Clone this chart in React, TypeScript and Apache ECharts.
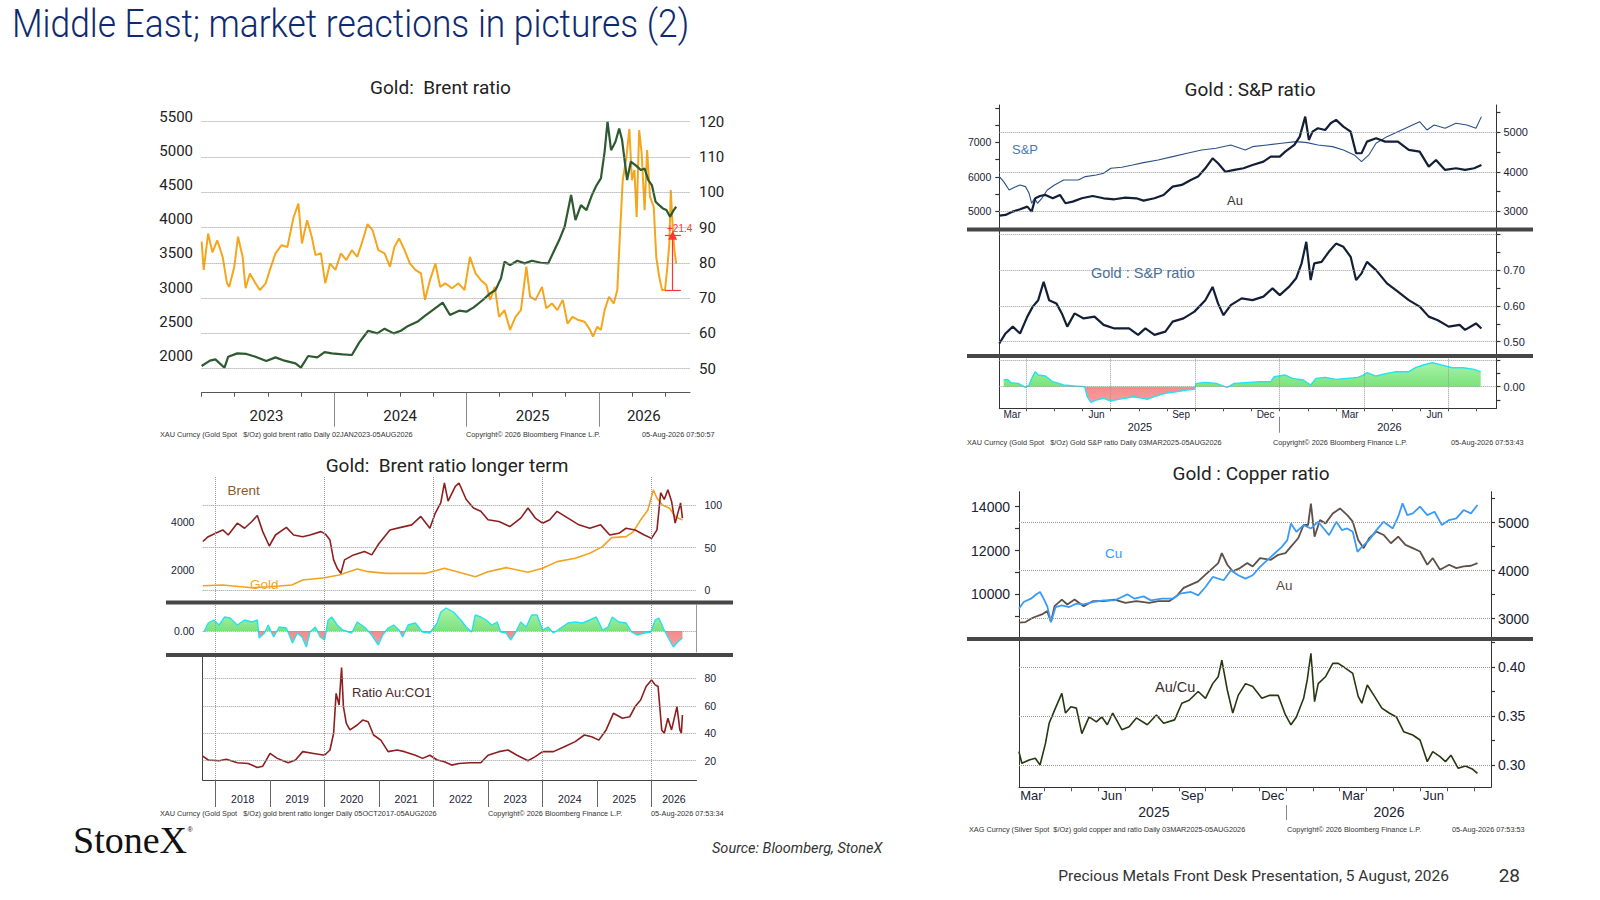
import React, { useEffect, useRef } from "react";
import * as echarts from "echarts";

const SLIDE_FONT = "Roboto, 'Noto Sans', Arial, sans-serif";
const BBG_FONT = "'Liberation Sans', Arial, sans-serif";

/* ================= Panel 1 : Gold : Brent ratio (x = decimal year) ================= */
const p1GoldT = [2023.000, 2023.063, 2023.104, 2023.173, 2023.201, 2023.269, 2023.338, 2023.407, 2023.489, 2023.558, 2023.626, 2023.709, 2023.750, 2023.805, 2023.874, 2023.929, 2023.984, 2024.066, 2024.135, 2024.190, 2024.258, 2024.327, 2024.382, 2024.451, 2024.505, 2024.560, 2024.629, 2024.684, 2024.753, 2024.821, 2024.876, 2024.945, 2025.000, 2025.055, 2025.124, 2025.179, 2025.220, 2025.261, 2025.288, 2025.330, 2025.385, 2025.440, 2025.495, 2025.563, 2025.618, 2025.659, 2025.701, 2025.742, 2025.791, 2025.824, 2025.865, 2025.907, 2025.948, 2025.984, 2026.016, 2026.044, 2026.066, 2026.093, 2026.126, 2026.154, 2026.176, 2026.195, 2026.214, 2026.242, 2026.277, 2026.319, 2026.346, 2026.374, 2026.401, 2026.429, 2026.456, 2026.484, 2026.511, 2026.538, 2026.566, 2026.585];
const p1GoldV = [1854, 1932, 1951, 1829, 1990, 2039, 2030, 1990, 1927, 1980, 1932, 1893, 1830, 2000, 1980, 2058, 2039, 2024, 2015, 2195, 2370, 2331, 2400, 2331, 2370, 2440, 2500, 2585, 2682, 2780, 2600, 2663, 2648, 2711, 2819, 2916, 2965, 3135, 3379, 3330, 3394, 3355, 3394, 3364, 3355, 3525, 3696, 3891, 4354, 3988, 4207, 4134, 4353, 4500, 4597, 4987, 5426, 5011, 5133, 5328, 5158, 4865, 4573, 4841, 4792, 4719, 4743, 4573, 4500, 4256, 4207, 4159, 4134, 4037, 4134, 4183];
const p1BrentT = [2023.000, 2023.016, 2023.049, 2023.082, 2023.118, 2023.159, 2023.192, 2023.209, 2023.247, 2023.275, 2023.310, 2023.332, 2023.365, 2023.407, 2023.440, 2023.484, 2023.516, 2023.558, 2023.604, 2023.648, 2023.695, 2023.731, 2023.758, 2023.797, 2023.832, 2023.860, 2023.901, 2023.934, 2023.970, 2024.011, 2024.052, 2024.093, 2024.135, 2024.176, 2024.217, 2024.253, 2024.291, 2024.335, 2024.382, 2024.423, 2024.456, 2024.492, 2024.533, 2024.574, 2024.615, 2024.657, 2024.687, 2024.725, 2024.766, 2024.802, 2024.841, 2024.890, 2024.940, 2024.986, 2025.027, 2025.069, 2025.110, 2025.151, 2025.179, 2025.214, 2025.247, 2025.288, 2025.330, 2025.371, 2025.412, 2025.453, 2025.481, 2025.522, 2025.571, 2025.604, 2025.646, 2025.687, 2025.728, 2025.764, 2025.802, 2025.846, 2025.893, 2025.934, 2025.956, 2025.989, 2026.016, 2026.044, 2026.077, 2026.113, 2026.140, 2026.159, 2026.181, 2026.209, 2026.231, 2026.250, 2026.269, 2026.286, 2026.305, 2026.324, 2026.346, 2026.365, 2026.387, 2026.415, 2026.434, 2026.456, 2026.478, 2026.500, 2026.516, 2026.533, 2026.544, 2026.558, 2026.571, 2026.585];
const p1BrentV = [86.0, 78.0, 88.3, 83.0, 86.4, 81.7, 74.2, 73.2, 78.9, 87.4, 81.7, 72.8, 77.0, 74.2, 72.3, 74.2, 78.0, 82.7, 85.0, 84.5, 93.0, 96.8, 85.5, 92.1, 87.4, 82.2, 82.7, 74.2, 79.8, 78.0, 82.7, 80.8, 83.6, 81.7, 86.4, 91.0, 89.3, 83.6, 82.7, 78.9, 84.5, 86.9, 83.6, 79.8, 78.0, 77.0, 69.5, 75.1, 79.8, 73.2, 74.2, 72.8, 74.2, 72.3, 81.7, 77.0, 75.1, 73.7, 69.5, 73.2, 64.7, 66.6, 61.0, 64.7, 66.6, 78.9, 70.4, 69.5, 73.2, 67.1, 68.5, 66.6, 69.5, 62.8, 64.7, 63.8, 63.3, 61.0, 59.1, 61.9, 61.0, 66.6, 70.4, 68.5, 72.3, 87.4, 103.4, 110.0, 118.0, 103.4, 106.3, 93.0, 117.6, 111.0, 94.9, 112.0, 98.7, 95.9, 81.7, 76.1, 72.3, 72.3, 78.0, 85.5, 100.6, 90.2, 83.6, 79.8];
const p1LeftLabels = [2000, 2500, 3000, 3500, 4000, 4500, 5000, 5500];
const p1RightLabels = [50, 60, 70, 80, 90, 100, 110, 120];
const p1QuarterTicks = [2023, 2023.25, 2023.5, 2023.75, 2024, 2024.25, 2024.5, 2024.75, 2025, 2025.25, 2025.5, 2025.75, 2026, 2026.25, 2026.5];
const p1YearBounds = [2024, 2025, 2026];
const p1YearPos = [2023.49, 2024.5, 2025.5, 2026.34];
const p1YearNames = ["2023", "2024", "2025", "2026"];
const p1Move = { at: 2026.558, from: 72.3, to: 87.8, capL: 2026.5, capR: 2026.62, text: "+21.4" };

/* ================= Panel 2 : longer term (x = decimal year) ================= */
const p2BrentT = [2017.767, 2017.867, 2018.000, 2018.133, 2018.233, 2018.400, 2018.533, 2018.667, 2018.767, 2018.867, 2018.987, 2019.100, 2019.300, 2019.433, 2019.600, 2019.733, 2019.933, 2020.020, 2020.100, 2020.167, 2020.233, 2020.300, 2020.367, 2020.533, 2020.733, 2020.867, 2021.000, 2021.200, 2021.400, 2021.600, 2021.767, 2021.933, 2022.033, 2022.133, 2022.200, 2022.267, 2022.400, 2022.467, 2022.600, 2022.733, 2022.867, 2023.000, 2023.200, 2023.400, 2023.600, 2023.733, 2023.867, 2024.000, 2024.133, 2024.267, 2024.467, 2024.667, 2024.867, 2025.067, 2025.233, 2025.400, 2025.533, 2025.700, 2025.867, 2026.000, 2026.100, 2026.167, 2026.233, 2026.300, 2026.367, 2026.433, 2026.500, 2026.533, 2026.567];
const p2BrentV = [57.3, 63, 67, 71, 65, 79, 73, 81, 88, 69, 52, 65, 74, 65, 63, 65, 69, 66, 59, 35.6, 25.7, 19.8, 35.6, 41.5, 45.5, 41.5, 55, 71, 74, 77, 87, 73, 91, 103, 126.5, 105, 122.5, 126.5, 107, 97, 93, 83, 81, 75, 85, 97, 85, 79, 83, 93, 85, 77, 73, 77, 65, 67, 73, 71, 65, 61, 71, 115, 107, 118.6, 105, 79, 95, 103, 85];
const p2GoldT = [2017.767, 2018.133, 2018.667, 2019.000, 2019.400, 2019.600, 2020.000, 2020.267, 2020.600, 2020.800, 2021.133, 2021.467, 2021.867, 2022.200, 2022.533, 2022.767, 2023.000, 2023.333, 2023.733, 2024.000, 2024.267, 2024.600, 2024.867, 2025.100, 2025.267, 2025.533, 2025.667, 2025.800, 2025.933, 2026.033, 2026.100, 2026.200, 2026.333, 2026.433, 2026.567];
const p2GoldV = [1342, 1370, 1258, 1300, 1370, 1580, 1678, 1790, 2042, 1930, 1860, 1860, 1860, 2070, 1860, 1720, 1930, 2098, 1902, 2070, 2350, 2490, 2700, 2980, 3357, 3400, 3609, 4100, 4518, 5358, 5008, 4728, 4588, 4238, 4098];
const p2OscT = [2017.787, 2017.867, 2017.967, 2018.067, 2018.167, 2018.267, 2018.400, 2018.533, 2018.667, 2018.767, 2018.800, 2018.900, 2018.967, 2019.067, 2019.167, 2019.300, 2019.413, 2019.500, 2019.587, 2019.667, 2019.733, 2019.833, 2019.920, 2020.000, 2020.067, 2020.133, 2020.233, 2020.333, 2020.500, 2020.600, 2020.733, 2020.867, 2020.987, 2021.067, 2021.167, 2021.267, 2021.367, 2021.433, 2021.533, 2021.667, 2021.800, 2021.933, 2022.067, 2022.133, 2022.233, 2022.367, 2022.500, 2022.600, 2022.700, 2022.767, 2022.867, 2022.967, 2023.067, 2023.167, 2023.233, 2023.333, 2023.413, 2023.500, 2023.600, 2023.700, 2023.800, 2023.900, 2024.000, 2024.100, 2024.200, 2024.333, 2024.467, 2024.600, 2024.733, 2024.867, 2024.987, 2025.100, 2025.200, 2025.280, 2025.400, 2025.533, 2025.633, 2025.733, 2025.867, 2025.987, 2026.067, 2026.133, 2026.233, 2026.300, 2026.400, 2026.480, 2026.567];
const p2OscV = [-0.01, 0.08, 0.11, 0.06, 0.14, 0.13, 0.06, 0.11, 0.09, 0.11, -0.07, -0.02, 0.06, -0.06, 0.04, 0.03, -0.12, -0.02, -0.06, -0.16, -0.01, 0.04, -0.06, -0.09, 0.11, 0.14, 0.06, 0.01, -0.02, 0.09, 0.04, -0.04, -0.14, -0.04, 0.03, 0.06, 0.01, -0.06, 0.06, 0.08, -0.01, -0.02, 0.08, 0.19, 0.23, 0.19, 0.11, 0.04, -0.01, 0.16, 0.14, 0.11, 0.06, 0.09, -0.01, -0.02, -0.09, -0.02, 0.09, 0.04, 0.16, 0.16, 0.01, 0.04, -0.02, 0.03, 0.08, 0.09, 0.08, 0.11, 0.14, 0.01, 0.04, 0.14, 0.09, 0.08, -0.01, -0.04, -0.02, -0.01, 0.11, 0.13, 0.01, -0.06, -0.16, -0.11, -0.07];
const p2RatioT = [2017.767, 2017.867, 2018.067, 2018.200, 2018.400, 2018.600, 2018.767, 2018.867, 2019.000, 2019.133, 2019.333, 2019.467, 2019.600, 2019.800, 2020.000, 2020.100, 2020.167, 2020.213, 2020.267, 2020.313, 2020.347, 2020.400, 2020.467, 2020.600, 2020.700, 2020.800, 2020.900, 2021.033, 2021.167, 2021.333, 2021.467, 2021.667, 2021.800, 2021.933, 2022.067, 2022.200, 2022.333, 2022.467, 2022.667, 2022.867, 2023.000, 2023.200, 2023.367, 2023.533, 2023.733, 2023.867, 2024.000, 2024.200, 2024.400, 2024.600, 2024.767, 2024.900, 2025.033, 2025.167, 2025.300, 2025.467, 2025.600, 2025.700, 2025.800, 2025.900, 2026.000, 2026.067, 2026.120, 2026.187, 2026.233, 2026.300, 2026.367, 2026.467, 2026.520, 2026.547, 2026.567];
const p2RatioV = [23.4, 20.5, 20, 21, 18.5, 18, 15, 16, 25.3, 21.7, 18.5, 20.5, 26.6, 25.3, 24, 27.8, 40, 69, 60.6, 87.8, 59.4, 47.2, 42.4, 46, 49.6, 48.4, 38.7, 35, 26.6, 27.8, 26.6, 24, 21.7, 24, 20.5, 19.3, 16.8, 18, 18.5, 18.5, 24, 26.6, 27.8, 24, 20, 23, 26.6, 26.6, 30.2, 33.9, 38.7, 37.5, 35, 42.4, 54.5, 50.9, 52, 59.4, 64.2, 74, 78.8, 75.2, 74, 42.4, 40, 50.9, 42.4, 59.4, 42.4, 40, 53.3];
const p2YearTicks = [2018, 2019, 2020, 2021, 2022, 2023, 2024, 2025, 2026];
const p2YearPos = [2018.5, 2019.5, 2020.5, 2021.5, 2022.5, 2023.5, 2024.5, 2025.5, 2026.41];
const p2YearNames = ["2018", "2019", "2020", "2021", "2022", "2023", "2024", "2025", "2026"];
const p2Verticals = [2018, 2020, 2022, 2024, 2026];

/* ================= Panel 3 : Gold : S&P (x = months since Jan 2025) ================= */
const p3SpxT = [2.045, 2.200, 2.394, 2.587, 2.781, 2.974, 3.103, 3.194, 3.297, 3.400, 3.555, 3.748, 4.006, 4.329, 4.587, 4.845, 5.103, 5.490, 5.748, 6.006, 6.394, 6.781, 7.168, 7.684, 8.200, 8.716, 9.232, 9.748, 10.265, 10.781, 11.039, 11.555, 12.071, 12.587, 12.974, 13.361, 13.877, 14.265, 14.652, 14.910, 15.168, 15.426, 15.813, 16.200, 16.587, 16.974, 17.232, 17.490, 17.877, 18.265, 18.652, 18.974, 19.168];
const p3SpxV = [6005, 5860, 5619, 5696, 5764, 5715, 5522, 5232, 5377, 5232, 5377, 5619, 5764, 5908, 5908, 5908, 6005, 6053, 6102, 6247, 6276, 6343, 6411, 6488, 6585, 6681, 6778, 6826, 6923, 6778, 6874, 6923, 6971, 7019, 6990, 6923, 6874, 6778, 6633, 6440, 6633, 6971, 7164, 7309, 7454, 7599, 7357, 7502, 7406, 7551, 7502, 7406, 7744];
const p3AuT = [2.045, 2.265, 2.523, 2.781, 3.039, 3.194, 3.323, 3.490, 3.684, 3.942, 4.200, 4.394, 4.652, 4.974, 5.361, 5.748, 6.135, 6.523, 6.910, 7.168, 7.555, 7.877, 8.200, 8.523, 8.845, 9.103, 9.361, 9.619, 9.813, 10.071, 10.394, 10.716, 11.039, 11.426, 11.684, 12.006, 12.200, 12.523, 12.716, 12.910, 13.039, 13.168, 13.361, 13.619, 13.813, 14.006, 14.265, 14.523, 14.716, 14.910, 15.103, 15.426, 15.748, 16.200, 16.587, 16.974, 17.297, 17.555, 17.877, 18.265, 18.587, 18.910, 19.168];
const p3AuV = [2890, 2907, 2992, 3051, 3118, 2992, 3329, 3388, 3414, 3329, 3414, 3203, 3245, 3329, 3388, 3329, 3304, 3346, 3329, 3270, 3329, 3414, 3625, 3667, 3793, 3878, 4089, 4342, 4215, 4000, 4047, 4089, 4173, 4258, 4384, 4384, 4511, 4680, 4891, 5397, 4806, 5017, 5102, 5059, 5228, 5313, 5144, 5017, 4469, 4469, 4764, 4848, 4764, 4764, 4553, 4511, 4131, 4300, 4047, 4089, 4047, 4089, 4173];
const p3RatioT = [2.045, 2.265, 2.523, 2.781, 3.039, 3.232, 3.426, 3.619, 3.813, 4.071, 4.265, 4.458, 4.716, 5.039, 5.426, 5.748, 6.135, 6.652, 6.974, 7.232, 7.555, 7.942, 8.200, 8.587, 8.974, 9.361, 9.619, 9.813, 10.006, 10.265, 10.652, 11.039, 11.426, 11.748, 12.006, 12.329, 12.587, 12.781, 12.948, 13.103, 13.232, 13.490, 13.748, 14.006, 14.265, 14.523, 14.716, 14.910, 15.103, 15.426, 15.813, 16.200, 16.587, 16.974, 17.297, 17.619, 18.006, 18.394, 18.587, 18.974, 19.168];
const p3RatioV = [0.495, 0.523, 0.542, 0.523, 0.570, 0.598, 0.616, 0.667, 0.616, 0.607, 0.579, 0.542, 0.579, 0.565, 0.570, 0.547, 0.537, 0.537, 0.519, 0.537, 0.519, 0.528, 0.556, 0.565, 0.584, 0.616, 0.653, 0.607, 0.574, 0.602, 0.621, 0.616, 0.626, 0.649, 0.630, 0.653, 0.677, 0.719, 0.779, 0.672, 0.719, 0.723, 0.751, 0.774, 0.765, 0.737, 0.672, 0.691, 0.723, 0.700, 0.663, 0.640, 0.616, 0.598, 0.570, 0.560, 0.542, 0.547, 0.533, 0.551, 0.537];
const p3OscT = [2.200, 2.329, 2.458, 2.716, 2.974, 3.103, 3.194, 3.323, 3.426, 3.684, 3.942, 4.329, 4.716, 5.077, 5.168, 5.297, 5.490, 5.748, 6.006, 6.265, 6.523, 6.781, 7.039, 7.297, 7.555, 7.942, 8.329, 8.716, 8.974, 9.039, 9.361, 9.748, 10.135, 10.394, 10.910, 11.297, 11.684, 11.813, 12.200, 12.458, 12.845, 13.103, 13.297, 13.619, 14.006, 14.394, 14.781, 14.974, 15.103, 15.426, 15.813, 16.135, 16.587, 16.845, 17.103, 17.426, 17.748, 18.135, 18.523, 18.910, 19.142];
const p3OscV = [0.05, 0.055, 0.03, 0.025, -0.005, 0.0125, 0.0625, 0.1125, 0.0875, 0.08, 0.0375, 0.0125, 0.005, 0, -0.075, -0.1175, -0.1, -0.0875, -0.1075, -0.095, -0.0875, -0.075, -0.0825, -0.095, -0.075, -0.05, -0.0375, -0.025, -0.02, 0.025, 0.0325, 0.025, -0.005, 0.025, 0.0325, 0.0375, 0.0375, 0.075, 0.0875, 0.0625, 0.05, 0.0125, 0.0625, 0.07, 0.055, 0.0625, 0.07, 0.0875, 0.105, 0.08, 0.1, 0.1125, 0.1125, 0.145, 0.1625, 0.18, 0.1625, 0.1425, 0.1425, 0.13, 0.1125];
const p3SpxLabels = [5000, 6000, 7000];
const p3SpxTicks = [4500, 5000, 5500, 6000, 6500, 7000, 7500, 8000];
const p3AuLabels = [3000, 4000, 5000];
const p3AuTicks = [3000, 3500, 4000, 4500, 5000, 5500];
const p3RatioLabels = [0.5, 0.6, 0.7];
const p3RatioTicks = [0.5, 0.55, 0.6, 0.65, 0.7, 0.75, 0.8];
const p3RatioGrid = [0.5, 0.6, 0.7, 0.8];
const p3OscTicks = [-0.1, 0, 0.1, 0.2];
const p3QuarterLines = [3, 6, 9, 12, 15, 18];

/* ================= Panel 4 : Gold : Copper (x = months since Jan 2025) ================= */
const p4CuT = [2.037, 2.214, 2.485, 2.688, 2.824, 2.959, 3.095, 3.231, 3.407, 3.637, 3.908, 4.180, 4.451, 4.790, 5.197, 5.603, 5.875, 6.078, 6.349, 6.688, 6.959, 7.366, 7.773, 8.044, 8.451, 8.722, 8.993, 9.264, 9.671, 9.942, 10.214, 10.485, 10.756, 11.027, 11.298, 11.569, 11.841, 12.044, 12.180, 12.383, 12.654, 12.925, 13.197, 13.400, 13.603, 13.875, 14.078, 14.281, 14.485, 14.661, 14.824, 15.095, 15.366, 15.637, 15.976, 16.180, 16.342, 16.519, 16.722, 16.993, 17.264, 17.536, 17.807, 18.078, 18.349, 18.620, 18.892, 19.136];
const p4CuV = [9343, 9648, 9800, 9999, 10106, 9800, 9449, 8732, 9419, 9495, 9419, 9572, 9541, 9648, 9724, 9724, 9877, 9999, 9800, 9907, 9724, 9800, 9800, 10030, 10106, 9953, 10335, 10793, 10641, 11099, 10870, 10717, 10870, 11251, 11557, 11862, 12167, 12473, 13236, 12855, 13160, 13007, 13313, 13007, 12702, 13313, 12931, 13007, 12855, 11939, 12167, 12473, 12931, 13313, 13007, 13542, 14153, 13618, 13694, 14000, 13618, 13771, 13160, 13389, 13465, 13847, 13694, 14076];
const p4AuT = [2.037, 2.281, 2.553, 2.892, 3.095, 3.231, 3.366, 3.637, 3.841, 4.112, 4.451, 4.790, 5.197, 5.603, 6.010, 6.417, 6.892, 7.231, 7.637, 7.908, 8.180, 8.451, 8.722, 8.993, 9.264, 9.468, 9.603, 9.807, 10.010, 10.281, 10.553, 10.756, 11.027, 11.434, 11.708, 11.976, 12.180, 12.451, 12.654, 12.817, 12.925, 13.061, 13.264, 13.468, 13.739, 14.010, 14.281, 14.485, 14.688, 14.892, 15.095, 15.366, 15.637, 15.908, 16.180, 16.451, 16.722, 16.993, 17.264, 17.468, 17.739, 18.078, 18.349, 18.620, 18.892, 19.136];
const p4AuV = [2916, 2930, 3020, 3089, 3158, 2930, 3261, 3399, 3296, 3399, 3261, 3365, 3365, 3399, 3330, 3365, 3330, 3365, 3365, 3468, 3641, 3710, 3779, 3917, 4055, 4158, 4365, 4124, 3986, 4055, 4158, 4089, 4262, 4227, 4331, 4365, 4503, 4676, 4952, 4952, 5400, 4710, 5055, 4986, 5193, 5297, 5159, 5021, 4641, 4469, 4676, 4814, 4745, 4572, 4710, 4538, 4469, 4400, 4124, 4262, 4020, 4124, 4055, 4089, 4103, 4158];
const p4RatioT = [2.037, 2.146, 2.417, 2.647, 2.824, 3.027, 3.163, 3.366, 3.637, 3.773, 3.976, 4.180, 4.383, 4.654, 4.925, 5.129, 5.332, 5.536, 5.875, 6.146, 6.417, 6.824, 7.163, 7.434, 7.841, 8.112, 8.383, 8.722, 8.993, 9.264, 9.468, 9.603, 9.807, 10.010, 10.214, 10.485, 10.756, 11.095, 11.366, 11.705, 11.976, 12.180, 12.383, 12.654, 12.790, 12.925, 13.061, 13.197, 13.468, 13.739, 13.942, 14.146, 14.485, 14.688, 14.824, 15.027, 15.298, 15.569, 15.841, 16.112, 16.383, 16.722, 16.993, 17.264, 17.468, 17.739, 17.942, 18.146, 18.417, 18.688, 18.959, 19.136];
const p4RatioV = [0.3136, 0.3017, 0.3051, 0.3068, 0.300, 0.322, 0.3425, 0.356, 0.373, 0.353, 0.3595, 0.358, 0.332, 0.349, 0.344, 0.349, 0.341, 0.353, 0.336, 0.339, 0.348, 0.341, 0.351, 0.3425, 0.346, 0.363, 0.366, 0.375, 0.368, 0.383, 0.390, 0.407, 0.3765, 0.353, 0.371, 0.383, 0.380, 0.368, 0.371, 0.371, 0.351, 0.341, 0.349, 0.368, 0.387, 0.414, 0.3646, 0.383, 0.390, 0.4037, 0.4037, 0.400, 0.3935, 0.370, 0.363, 0.3816, 0.370, 0.358, 0.353, 0.349, 0.334, 0.3306, 0.3255, 0.3034, 0.3136, 0.3085, 0.3034, 0.310, 0.2966, 0.299, 0.2956, 0.2915];
const p4CuLabels = [10000, 12000, 14000];
const p4CuTicks = [9000, 10000, 11000, 12000, 13000, 14000];
const p4AuLabels = [3000, 4000, 5000];
const p4AuTicks = [3000, 3500, 4000, 4500, 5000, 5500];
const p4RatioLabels = [0.3, 0.35, 0.4];
const p4RatioTicks = [0.3, 0.325, 0.35, 0.375, 0.4, 0.425];

/* shared month axis for panels 3 and 4 */
const monthTicks = [3, 4, 5, 6, 7, 8, 9, 10, 11, 12, 13, 14, 15, 16, 17, 18, 19];
const monthLabelPos = [2.5, 5.5, 8.5, 11.5, 14.5, 17.5];
const monthLabelNames = ["Mar", "Jun", "Sep", "Dec", "Mar", "Jun"];
const yearBoundary = [12];
const p3YearPos = [7.04, 15.9];
const p4YearPos = [7.07, 15.84];
const rightYearNames = ["2025", "2026"];

/* ================= helpers ================= */
const zip = (t: number[], v: number[]) => t.map((x, i) => [x, v[i]]);
const pick = (pos: number[], names: string[]) => (v: number) => {
  const i = pos.findIndex((p) => Math.abs(p - v) < 1e-6);
  return i >= 0 ? names[i] : "";
};
const plain = (v: number) => String(v);
const fix2 = (v: number) => v.toFixed(2);

const DOT = { type: "dotted", color: "#9a9a9a", width: 1 };
function guides(h: number[] = [], v: number[] = []) {
  return {
    silent: true,
    symbol: ["none", "none"],
    label: { show: false },
    lineStyle: DOT,
    data: [...h.map((y) => ({ yAxis: y })), ...v.map((x) => ({ xAxis: x }))] as any[],
  };
}

function xAx(grid: number, min: number, max: number, o: any = {}) {
  if (o.hidden) return { type: "value", gridIndex: grid, min, max, show: false, splitLine: { show: false } };
  return {
    type: "value",
    gridIndex: grid,
    min,
    max,
    position: "bottom",
    offset: o.offset ?? 0,
    axisLine: { show: o.line !== false, onZero: false, lineStyle: { color: o.lineColor ?? "#333", width: 1 } },
    axisTick: o.ticks
      ? { show: true, customValues: o.ticks, length: o.tickLen ?? 4, inside: false, lineStyle: { color: o.tickColor ?? "#555", width: 1 } }
      : { show: false },
    axisLabel: o.labels
      ? { show: true, customValues: o.labels, formatter: o.fmt, margin: o.margin ?? 4, fontSize: o.size ?? 11, color: o.color ?? "#1a2233", fontFamily: o.font ?? BBG_FONT }
      : { show: false },
    splitLine: { show: false },
    minorTick: { show: false },
  };
}

function yAx(grid: number, position: string, min: number, max: number, o: any = {}) {
  return {
    type: "value",
    gridIndex: grid,
    position,
    min,
    max,
    axisLine: { show: !!o.line, onZero: false, lineStyle: { color: o.lineColor ?? "#333", width: 1 } },
    axisTick: o.ticks
      ? { show: true, customValues: o.ticks, length: o.tickLen ?? 4, inside: false, lineStyle: { color: o.lineColor ?? "#333", width: 1.2 } }
      : { show: false },
    axisLabel: o.labels
      ? { show: true, customValues: o.labels, formatter: o.fmt ?? plain, margin: o.margin ?? 8, fontSize: o.size ?? 11, color: o.color ?? "#1a2233", fontFamily: o.font ?? BBG_FONT }
      : { show: false },
    splitLine: { show: false },
    minorTick: { show: false },
  };
}

function line(data: any[], xi: number, yi: number, color: string, width: number, extra: any = {}) {
  return {
    type: "line",
    data,
    xAxisIndex: xi,
    yAxisIndex: yi,
    showSymbol: false,
    symbol: "none",
    silent: true,
    lineStyle: { color, width },
    itemStyle: { color },
    z: 3,
    ...extra,
  };
}

function osc(data: any[], xi: number, yi: number, top: number, h: number, min: number, max: number, extra: any = {}) {
  const f = max / (max - min);
  const fill = new echarts.graphic.LinearGradient(
    0, top, 0, top + h,
    [
      { offset: 0, color: "#b2f6b2" },
      { offset: f, color: "#7be27b" },
      { offset: f, color: "#f58a8a" },
      { offset: 1, color: "#f8a5a5" },
    ],
    true
  );
  return line(data, xi, yi, "#22e3f2", 1.4, { areaStyle: { color: fill, opacity: 1, origin: "auto" }, ...extra });
}

/* ================= layout (pixels) ================= */
const P1X: [number, number] = [2023.0, 2026.689];
const P2X: [number, number] = [2017.765, 2026.825];
const P3X: [number, number] = [2.044, 19.7];
const P4X: [number, number] = [2.04, 19.64];

const grids = [
  { left: 201.6, top: 116.7, width: 488.4, height: 276 }, // 0 P1 gold axis
  { left: 201.6, top: 121.7, width: 488.4, height: 271 }, // 1 P1 brent axis
  { left: 202.7, top: 476, width: 493.8, height: 126 }, // 2 P2 prices
  { left: 202.7, top: 605, width: 493.8, height: 47 }, // 3 P2 oscillator
  { left: 202.7, top: 655, width: 493.8, height: 125 }, // 4 P2 ratio
  { left: 999.3, top: 105, width: 497.1, height: 124.3 }, // 5 P3 prices
  { left: 999.3, top: 229.3, width: 497.1, height: 126.7 }, // 6 P3 ratio
  { left: 999.3, top: 357, width: 497.1, height: 51.3 }, // 7 P3 oscillator
  { left: 1019, top: 491.7, width: 472, height: 147.3 }, // 8 P4 prices
  { left: 1019, top: 641, width: 472, height: 146.3 }, // 9 P4 ratio
].map((g) => ({ ...g, containLabel: false, show: false }));

const Y = {
  p1Gold: [1463.5, 5500],
  p1Brent: [43.2, 120],
  p2Brent: [-14.18, 134.75],
  p2Gold: [658, 5941],
  p2Osc: [-0.21, 0.26],
  p2Ratio: [5.95, 96.96],
  p3Spx: [4478, 8081],
  p3Au: [2544, 5691],
  p3Ratio: [0.46, 0.814],
  p3Osc: [-0.162, 0.2228],
  p4Cu: [7959, 14685],
  p4Au: [2577, 5646],
  p4Ratio: [0.2772, 0.4265],
};

function buildOption() {
  const xAxis = [
    xAx(0, P1X[0], P1X[1], { hidden: true }), // 0
    xAx(1, P1X[0], P1X[1], {
      ticks: p1QuarterTicks, tickLen: 4, lineColor: "#555",
      labels: p1YearPos, fmt: pick(p1YearPos, p1YearNames), margin: 16, size: 15, color: "#222", font: SLIDE_FONT,
    }), // 1
    xAx(1, P1X[0], P1X[1], { line: false, ticks: p1YearBounds, tickLen: 34, tickColor: "#888" }), // 2
    xAx(2, P2X[0], P2X[1], { hidden: true }), // 3
    xAx(3, P2X[0], P2X[1], { hidden: true }), // 4
    xAx(4, P2X[0], P2X[1], {
      ticks: p2YearTicks, tickLen: 27, lineColor: "#444", tickColor: "#666",
      labels: p2YearPos, fmt: pick(p2YearPos, p2YearNames), margin: 13.5, size: 10.5,
    }), // 5
    xAx(5, P3X[0], P3X[1], { hidden: true }), // 6
    xAx(6, P3X[0], P3X[1], { hidden: true }), // 7
    xAx(7, P3X[0], P3X[1], {
      ticks: monthTicks, tickLen: 3, labels: monthLabelPos, fmt: pick(monthLabelPos, monthLabelNames), margin: 1.5, size: 10,
    }), // 8
    xAx(7, P3X[0], P3X[1], {
      line: false, offset: 8.4, ticks: yearBoundary, tickLen: 16, tickColor: "#888",
      labels: p3YearPos, fmt: pick(p3YearPos, rightYearNames), margin: 5, size: 11,
    }), // 9
    xAx(8, P4X[0], P4X[1], { hidden: true }), // 10
    xAx(9, P4X[0], P4X[1], {
      ticks: monthTicks, tickLen: 4, labels: monthLabelPos, fmt: pick(monthLabelPos, monthLabelNames), margin: 1.5, size: 13,
    }), // 11
    xAx(9, P4X[0], P4X[1], {
      line: false, offset: 17.7, ticks: yearBoundary, tickLen: 15, tickColor: "#888",
      labels: p4YearPos, fmt: pick(p4YearPos, rightYearNames), margin: 0, size: 14,
    }), // 12
  ];

  const yAxis = [
    yAx(0, "left", Y.p1Gold[0], Y.p1Gold[1], { labels: p1LeftLabels, margin: 8.6, size: 15, color: "#222", font: SLIDE_FONT }), // 0
    yAx(1, "right", Y.p1Brent[0], Y.p1Brent[1], { labels: p1RightLabels, margin: 9, size: 15, color: "#222", font: SLIDE_FONT }), // 1
    yAx(2, "right", Y.p2Brent[0], Y.p2Brent[1], { labels: [0, 50, 100], margin: 8, size: 10.5 }), // 2
    yAx(2, "left", Y.p2Gold[0], Y.p2Gold[1], { labels: [2000, 4000], margin: 8.3, size: 10.5 }), // 3
    yAx(3, "left", Y.p2Osc[0], Y.p2Osc[1], { labels: [0], fmt: fix2, margin: 8.3, size: 10.5 }), // 4
    yAx(3, "right", Y.p2Osc[0], Y.p2Osc[1], { line: true, lineColor: "#999" }), // 5
    yAx(4, "right", Y.p2Ratio[0], Y.p2Ratio[1], { labels: [20, 40, 60, 80], margin: 8, size: 10.5 }), // 6
    yAx(4, "left", Y.p2Ratio[0], Y.p2Ratio[1], { line: true, lineColor: "#444" }), // 7
    yAx(5, "left", Y.p3Spx[0], Y.p3Spx[1], { line: true, ticks: p3SpxTicks, labels: p3SpxLabels, margin: 8, size: 10.5 }), // 8
    yAx(5, "right", Y.p3Au[0], Y.p3Au[1], { line: true, ticks: p3AuTicks, labels: p3AuLabels, margin: 7, size: 11 }), // 9
    yAx(6, "left", Y.p3Ratio[0], Y.p3Ratio[1], { line: true }), // 10
    yAx(6, "right", Y.p3Ratio[0], Y.p3Ratio[1], { line: true, ticks: p3RatioTicks, labels: p3RatioLabels, fmt: fix2, margin: 7, size: 11 }), // 11
    yAx(7, "left", Y.p3Osc[0], Y.p3Osc[1], { line: true }), // 12
    yAx(7, "right", Y.p3Osc[0], Y.p3Osc[1], { line: true, ticks: p3OscTicks, labels: [0], fmt: fix2, margin: 7, size: 11 }), // 13
    yAx(8, "left", Y.p4Cu[0], Y.p4Cu[1], { line: true, ticks: p4CuTicks, labels: p4CuLabels, margin: 9, size: 14 }), // 14
    yAx(8, "right", Y.p4Au[0], Y.p4Au[1], { line: true, ticks: p4AuTicks, labels: p4AuLabels, margin: 7, size: 14 }), // 15
    yAx(9, "left", Y.p4Ratio[0], Y.p4Ratio[1], { line: true }), // 16
    yAx(9, "right", Y.p4Ratio[0], Y.p4Ratio[1], { line: true, ticks: p4RatioTicks, labels: p4RatioLabels, fmt: fix2, margin: 7, size: 14 }), // 17
  ];

  const RED = "#ff3535";
  const p1Marks = guides(p1RightLabels);
  p1Marks.data.push(
    [
      { coord: [p1Move.at, p1Move.from], symbol: "none", lineStyle: { color: RED, type: "solid", width: 1.2 } },
      { coord: [p1Move.at, p1Move.to], symbol: "triangle", symbolSize: 9 },
    ],
    [
      { coord: [p1Move.capL, p1Move.from], symbol: "none", lineStyle: { color: RED, type: "solid", width: 1.2 } },
      { coord: [p1Move.capR, p1Move.from], symbol: "none" },
    ],
    [
      {
        coord: [p1Move.capL, p1Move.to], symbol: "none", lineStyle: { color: RED, type: "solid", width: 1.2 },
        label: { show: true, formatter: p1Move.text, position: "insideStartTop", color: RED, fontSize: 10, distance: 2 },
      },
      { coord: [p1Move.capR, p1Move.to], symbol: "none" },
    ]
  );

  const series = [
    // Panel 1
    line(zip(p1BrentT, p1BrentV), 1, 1, "#f5a61c", 2, { markLine: p1Marks, z: 2 }),
    line(zip(p1GoldT, p1GoldV), 0, 0, "#2e5a31", 2.2, { z: 3 }),
    // Panel 2
    line(zip(p2GoldT, p2GoldV), 3, 3, "#f3a21f", 1.6, { z: 2 }),
    line(zip(p2BrentT, p2BrentV), 3, 2, "#8e1f1f", 1.6, { markLine: guides([0, 50, 100], p2Verticals), z: 3 }),
    osc(zip(p2OscT, p2OscV), 4, 4, 605, 47, Y.p2Osc[0], Y.p2Osc[1], { markLine: guides([0], p2Verticals) }),
    line(zip(p2RatioT, p2RatioV), 5, 6, "#8e1f1f", 1.6, { markLine: guides([20, 40, 60, 80], p2Verticals) }),
    // Panel 3
    line(zip(p3SpxT, p3SpxV), 6, 8, "#2b5088", 1.1, { z: 2 }),
    line(zip(p3AuT, p3AuV), 6, 9, "#121f36", 2.2, { markLine: guides(p3AuLabels), z: 3 }),
    line(zip(p3RatioT, p3RatioV), 7, 11, "#121f36", 2.2, { markLine: guides(p3RatioGrid) }),
    osc(zip(p3OscT, p3OscV), 8, 13, 357, 51.3, Y.p3Osc[0], Y.p3Osc[1], { markLine: guides([0, 0.2], p3QuarterLines) }),
    // Panel 4
    line(zip(p4AuT, p4AuV), 10, 15, "#5e5048", 1.8, { markLine: guides(p4AuLabels), z: 2 }),
    line(zip(p4CuT, p4CuV), 10, 14, "#3a9bf7", 1.8, { z: 3 }),
    line(zip(p4RatioT, p4RatioV), 11, 17, "#26380f", 1.6, { markLine: guides(p4RatioLabels) }),
  ];

  const T = (x: number, y: number, text: string, size: number, fill: string, o: any = {}) => ({
    type: "text",
    x,
    y,
    silent: true,
    z: 100,
    scaleX: o.sx ?? 1,
    style: {
      text,
      fontSize: size,
      fontFamily: o.font ?? SLIDE_FONT,
      fontWeight: o.weight ?? "normal",
      fontStyle: o.style ?? "normal",
      fill,
      align: o.align ?? "left",
      verticalAlign: "middle",
    },
  });
  const R = (x: number, y: number, w: number, h: number, fill: string) => ({
    type: "rect", silent: true, z: 50, shape: { x, y, width: w, height: h }, style: { fill },
  });
  const BAR = "#474747";
  const FOOT = "#333";

  const graphic = [
    T(12, 24.5, "Middle East; market reactions in pictures (2)", 38, "#0f2a6e", { sx: 0.93, weight: 300 }),
    // chart titles
    T(440.5, 87, "Gold:  Brent ratio", 19, "#222", { align: "center" }),
    T(447, 465, "Gold:  Brent ratio longer term", 19, "#222", { align: "center" }),
    T(1250, 89, "Gold : S&P ratio", 19, "#222", { align: "center" }),
    T(1251, 473, "Gold : Copper ratio", 19, "#222", { align: "center" }),
    // separators
    R(166, 600.5, 567, 4, BAR),
    R(166, 653, 567, 4, BAR),
    R(967, 227.5, 566, 4, BAR),
    R(967, 354, 566, 4, BAR),
    R(967, 637, 566, 4, BAR),
    // in-chart labels
    T(227.5, 490, "Brent", 13.5, "#8a5a2c", { font: BBG_FONT }),
    T(250, 584, "Gold", 13.5, "#f5a623", { font: BBG_FONT }),
    T(352, 692.7, "Ratio Au:CO1", 13, "#4a2a2a", { font: BBG_FONT }),
    T(1012, 149, "S&P", 13, "#4a78b0", { font: BBG_FONT }),
    T(1227, 200, "Au", 13, "#333", { font: BBG_FONT }),
    T(1091, 272.7, "Gold : S&P ratio", 14.5, "#4a6f96", { font: BBG_FONT }),
    T(1105, 553, "Cu", 13.5, "#3399ff", { font: BBG_FONT }),
    T(1276, 585, "Au", 13.5, "#5a4a42", { font: BBG_FONT }),
    T(1155, 686.7, "Au/Cu", 14.5, "#3a3030", { font: BBG_FONT }),
    // Bloomberg footers
    T(160, 434, "XAU Curncy (Gold Spot   $/Oz) gold brent ratio Daily 02JAN2023-05AUG2026", 7.3, FOOT, { font: BBG_FONT }),
    T(466, 434, "Copyright\u00a9 2026 Bloomberg Finance L.P.", 7.3, FOOT, { font: BBG_FONT }),
    T(642, 434, "05-Aug-2026 07:50:57", 7.3, FOOT, { font: BBG_FONT }),
    T(160, 813, "XAU Curncy (Gold Spot   $/Oz) gold brent ratio longer Daily 05OCT2017-05AUG2026", 7.3, FOOT, { font: BBG_FONT }),
    T(488, 813, "Copyright\u00a9 2026 Bloomberg Finance L.P.", 7.3, FOOT, { font: BBG_FONT }),
    T(651, 813, "05-Aug-2026 07:53:34", 7.3, FOOT, { font: BBG_FONT }),
    T(967, 442, "XAU Curncy (Gold Spot   $/Oz) Gold S&P ratio Daily 03MAR2025-05AUG2026", 7.3, FOOT, { font: BBG_FONT }),
    T(1273, 442, "Copyright\u00a9 2026 Bloomberg Finance L.P.", 7.3, FOOT, { font: BBG_FONT }),
    T(1451, 442, "05-Aug-2026 07:53:43", 7.3, FOOT, { font: BBG_FONT }),
    T(969, 829, "XAG Curncy (Silver Spot  $/Oz) gold copper and ratio Daily 03MAR2025-05AUG2026", 7.3, FOOT, { font: BBG_FONT }),
    T(1287, 829, "Copyright\u00a9 2026 Bloomberg Finance L.P.", 7.3, FOOT, { font: BBG_FONT }),
    T(1452, 829, "05-Aug-2026 07:53:53", 7.3, FOOT, { font: BBG_FONT }),
    // slide footer
    T(73, 839.5, "StoneX", 38, "#111", { font: "'Liberation Serif', 'DejaVu Serif', serif" }),
    T(187.5, 829, "\u00ae", 7, "#111", { font: BBG_FONT }),
    T(712, 848, "Source: Bloomberg, StoneX", 14.5, "#333", { style: "italic" }),
    T(1449, 875.5, "Precious Metals Front Desk Presentation, 5 August, 2026", 15.5, "#333", { align: "right" }),
    T(1520, 875, "28", 19, "#333", { align: "right" }),
  ];

  return {
    animation: false,
    backgroundColor: "#ffffff",
    grid: grids,
    xAxis,
    yAxis,
    series,
    graphic,
  };
}

export default function App() {
  const ref = useRef<HTMLDivElement>(null);
  useEffect(() => {
    if (!ref.current) return;
    const chart = echarts.init(ref.current, null, { renderer: "svg" });
    chart.setOption(buildOption() as any);
    return () => chart.dispose();
  }, []);
  return (
    <div
      ref={ref}
      style={{ position: "absolute", left: 0, top: 0, width: 1600, height: 900, background: "#fff" }}
    />
  );
}
